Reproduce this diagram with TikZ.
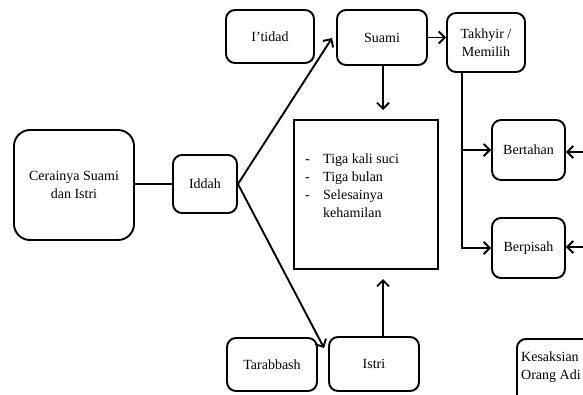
\documentclass[tikz,border=0pt]{standalone}
\usepackage{fontspec}
\setmainfont{Liberation Serif}
\usetikzlibrary{arrows.meta,calc}
\tikzset{
  box/.style={draw, line width=1.9pt, rounded corners=9pt, align=center, inner sep=2pt, font=\fontsize{14}{18}\selectfont},
  bigbox/.style={draw, line width=1.9pt, rounded corners=16pt, align=center, inner sep=2pt, font=\fontsize{14}{18}\selectfont},
  sqbox/.style={draw, line width=1.9pt, inner sep=0pt},
  conn/.style={line width=1.9pt},
  arr/.style={line width=1.9pt, -{Straight Barb[length=6pt,width=12pt,line width=1.9pt]}},
  txt/.style={font=\fontsize{14}{18}\selectfont, align=left, inner sep=0pt}
}
\begin{document}
\begin{tikzpicture}[x=1pt,y=-1pt]
\useasboundingbox (0,0) rectangle (583,394);
\clip (0,0) rectangle (583,394);
\fill[white] (0,0) rectangle (583,394);

\node[bigbox, minimum width=120pt, minimum height=110pt] (cer) at (74,185) {Cerainya Suami\\dan Istri};
\node[box, minimum width=64pt, minimum height=58pt] (iddah) at (205,184) {Iddah};
\node[box, minimum width=88pt, minimum height=53pt] (itidad) at (270,36.5) {I’tidad};
\node[box, minimum width=90pt, minimum height=55pt] (suami) at (382,37.5) {Suami};
\node[box, minimum width=78pt, minimum height=59pt] (takhyir) at (486,42.5) {Takhyir /\\Memilih};
\node[sqbox, minimum width=144pt, minimum height=149pt] (big) at (366,194.5) {};
\node[txt, anchor=west] (list) at (305,186) {\makebox[18pt][l]{-}Tiga kali suci\\\makebox[18pt][l]{-}Tiga bulan\\\makebox[18pt][l]{-}Selesainya\\\makebox[18pt][l]{}kehamilan};
\node[box, minimum width=73pt, minimum height=60pt] (bertahan) at (528.5,150) {Bertahan};
\node[box, minimum width=73pt, minimum height=60pt] (berpisah) at (528.5,248) {Berpisah};
\node[box, minimum width=90pt, minimum height=53pt] (tarab) at (272,364.5) {Tarabbash};
\node[box, minimum width=90pt, minimum height=54pt] (istri) at (374,364) {Istri};
\node[box, minimum width=110pt, minimum height=70pt, anchor=north west] (kes) at (516,338) {};
\node[txt, anchor=north west] (kestxt) at (521,352) {Kesaksian\\Orang Adi};

\coordinate (sbtip) at (383,110);
\coordinate (istip) at (383,279);
\coordinate (vtop) at (462,72);
\coordinate (vb) at (462,150);
\coordinate (rin1) at (590,152);
\coordinate (rin2) at (590,247);

\draw[conn] (cer.east |- iddah.west) -- (iddah.west);
\draw[arr] (iddah.east) -- ($(suami.west)+(-4,0.5)$);
\draw[arr] (iddah.east) -- ($(istri.west)+(-4,-16)$);
\draw[arr] (suami.east) -- (takhyir.west |- suami.east);
\draw[arr] (sbtip |- suami.south) -- (sbtip);
\draw[arr] (sbtip |- istri.north) -- (istip);
\draw[arr] (vtop) |- (berpisah.west);
\draw[arr] (vb) -- (bertahan.west);
\draw[arr] (rin1) -- (bertahan.east |- rin1);
\draw[arr] (rin2) -- (berpisah.east |- rin2);
\end{tikzpicture}
\end{document}
